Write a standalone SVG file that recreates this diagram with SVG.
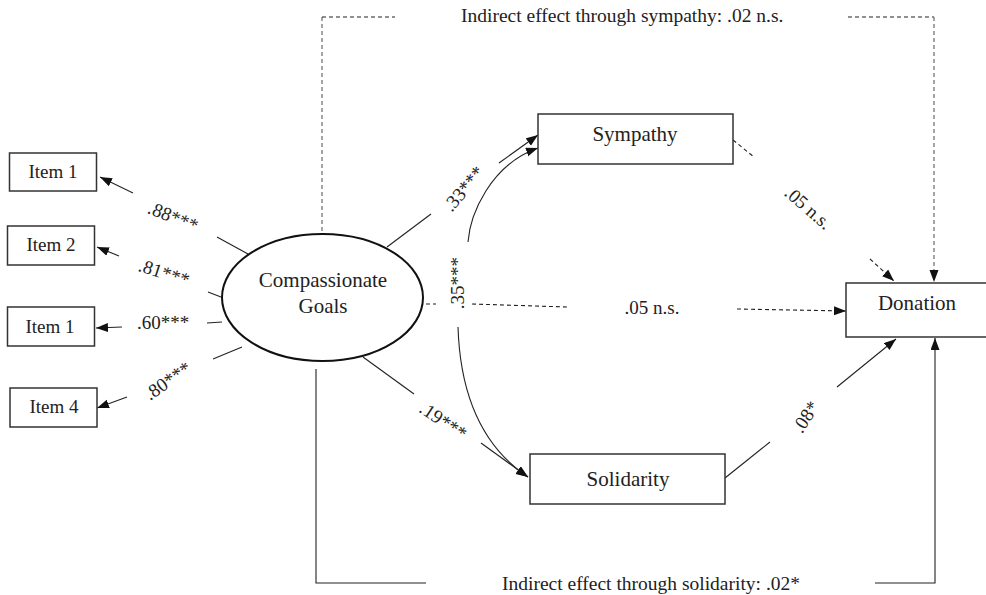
<svg xmlns="http://www.w3.org/2000/svg" width="986" height="595" viewBox="0 0 986 595">
<defs>
<marker id="ah" markerUnits="userSpaceOnUse" markerWidth="13" markerHeight="10" refX="12" refY="4.5" orient="auto">
<path d="M0,0 L12,4.5 L0,9 z" fill="#111"/>
</marker>
<style>
text{font-family:"Liberation Serif","Times New Roman",serif;fill:#222}
.node{font-size:21px}
.lab{font-size:19px}
.big{font-size:19.5px}
.box{fill:#fff;stroke:#333;stroke-width:1.5}
.ln{fill:none;stroke:#222;stroke-width:1.1}
.dl{fill:none;stroke:#222;stroke-width:1.1;stroke-dasharray:4,3}
.gv{fill:none;stroke:#888;stroke-width:1.5;stroke-dasharray:4,3}
</style>
</defs>
<rect width="986" height="595" fill="#fff"/>

<g id="connectors">
<!-- items -->
<line class="ln" x1="217" y1="237" x2="248" y2="254"/>
<line class="ln" x1="133" y1="193" x2="100" y2="177" marker-end="url(#ah)"/>
<line class="ln" x1="208" y1="292" x2="221" y2="297"/>
<line class="ln" x1="119" y1="256" x2="97" y2="247" marker-end="url(#ah)"/>
<line class="ln" x1="207" y1="323" x2="222" y2="322"/>
<line class="ln" x1="122" y1="327" x2="96" y2="328" marker-end="url(#ah)"/>
<line class="ln" x1="213" y1="359" x2="242" y2="347"/>
<line class="ln" x1="127" y1="397" x2="97" y2="408" marker-end="url(#ah)"/>
<!-- to sympathy -->
<line class="ln" x1="387" y1="247" x2="431" y2="214"/>
<line class="ln" x1="499" y1="163" x2="538" y2="135" marker-end="url(#ah)"/>
<!-- covariance curve -->
<path class="ln" d="M468,242 C470,215 490,165 538,148" marker-end="url(#ah)"/>
<path class="ln" d="M458,327 C460,390 480,445 528,477" marker-end="url(#ah)"/>
<!-- to solidarity -->
<line class="ln" x1="363" y1="357" x2="414" y2="394"/>
<line class="ln" x1="481" y1="443" x2="528" y2="477" marker-end="url(#ah)"/>
<!-- solidarity to donation -->
<line class="ln" x1="725" y1="478" x2="770" y2="442"/>
<line class="ln" x1="837" y1="387" x2="896" y2="339" marker-end="url(#ah)"/>
<!-- direct -->
<line class="dl" x1="426" y1="304" x2="436" y2="304"/>
<line class="dl" x1="472" y1="304" x2="567" y2="307"/>
<line class="dl" x1="737" y1="309" x2="846" y2="311" marker-end="url(#ah)"/>
<!-- sympathy to donation -->
<line class="dl" x1="733" y1="140" x2="754" y2="157"/>
<line class="dl" x1="870" y1="259" x2="894" y2="281" marker-end="url(#ah)"/>
<!-- indirect sympathy (top) -->
<line class="gv" x1="322" y1="231" x2="322" y2="17"/>
<line class="dl" x1="322" y1="17" x2="395" y2="17"/>
<line class="dl" x1="848" y1="17" x2="934" y2="17"/>
<line class="gv" x1="934" y1="17" x2="934" y2="282" marker-end="url(#ah)"/>
<!-- indirect solidarity (bottom) -->
<polyline class="ln" points="316,369 316,583 426,583"/>
<polyline class="ln" points="875,583 935,583 935,338" marker-end="url(#ah)"/>

<text class="lab" transform="translate(173,217) rotate(22)" text-anchor="middle" y="6">.88***</text>
<text class="lab" transform="translate(164,273) rotate(18)" text-anchor="middle" y="6">.81***</text>
<text class="lab" x="163" y="329" text-anchor="middle">.60***</text>
<text class="lab" transform="translate(168,381) rotate(-35)" text-anchor="middle" y="6">.80***</text>
<text class="lab" transform="translate(464,189) rotate(-50)" text-anchor="middle" y="6">.33***</text>
<text class="lab" transform="translate(458,283) rotate(-90)" text-anchor="middle" y="6">.35***</text>
<text class="lab" x="652" y="314" text-anchor="middle">.05 n.s.</text>
<text class="lab" transform="translate(808,208) rotate(41)" text-anchor="middle" y="6">.05 n.s.</text>
<text class="lab" transform="translate(443,421) rotate(34)" text-anchor="middle" y="6">.19***</text>
<text class="lab" transform="translate(806,417) rotate(-57)" text-anchor="middle" y="6">.08*</text>
<text class="big" x="461" y="22">Indirect effect through sympathy: .02 n.s.</text>
<text class="big" x="502" y="590">Indirect effect through solidarity: .02*</text>
</g>

<g id="item1a"><rect class="box" x="9.5" y="153" width="87" height="38"/><text class="lab" x="53" y="178" text-anchor="middle">Item 1</text></g>
<g id="item2"><rect class="box" x="7.5" y="226" width="87" height="39"/><text class="lab" x="51" y="251" text-anchor="middle">Item 2</text></g>
<g id="item1b"><rect class="box" x="7.5" y="307" width="87" height="39"/><text class="lab" x="50" y="333" text-anchor="middle">Item 1</text></g>
<g id="item4"><rect class="box" x="10" y="388" width="87" height="39"/><text class="lab" x="54" y="413" text-anchor="middle">Item 4</text></g>

<g id="goals">
<ellipse cx="322.5" cy="297.5" rx="100.5" ry="63.5" fill="#fff" stroke="#111" stroke-width="2"/>
<text class="node" x="323" y="287" text-anchor="middle">Compassionate</text>
<text class="node" x="323" y="313" text-anchor="middle">Goals</text>
</g>
<g id="sympathy"><rect class="box" x="538" y="114" width="195" height="50"/><text class="node" x="635" y="141" text-anchor="middle">Sympathy</text></g>
<g id="solidarity"><rect class="box" x="530" y="454" width="195" height="50"/><text class="node" x="628" y="486" text-anchor="middle">Solidarity</text></g>
<g id="donation"><rect class="box" x="846" y="283" width="150" height="54"/><text class="node" x="917" y="310" text-anchor="middle">Donation</text></g>
</svg>
